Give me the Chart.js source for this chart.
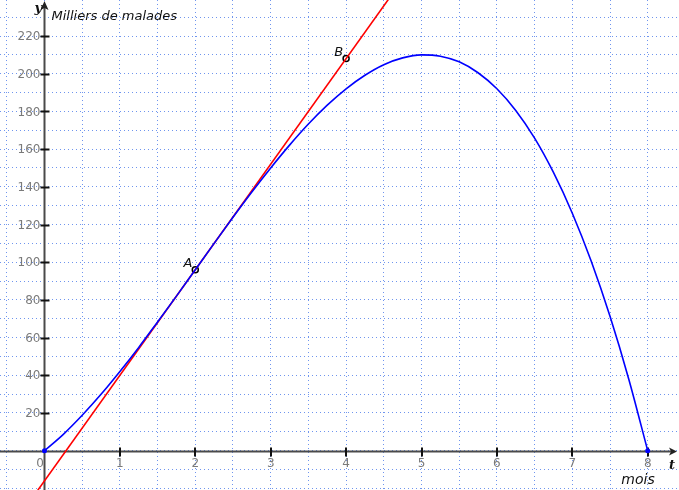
<!DOCTYPE html>
<html>
<head>
<meta charset="utf-8">
<script src="https://cdn.jsdelivr.net/npm/chart.js@4/dist/chart.umd.min.js"></script>
<style>
  html, body { margin: 0; padding: 0; background: #fff; }
  #wrap { width: 679px; height: 490px; }
</style>
</head>
<body>
<div id="wrap"><canvas id="chart"></canvas></div>
<script>
// mois (t) et milliers de malades
const moisT = [0, 0.25, 0.5, 0.75, 1, 1.25, 1.5, 1.75, 2, 2.25, 2.5, 2.75, 3, 3.25, 3.5, 3.75,
  4, 4.25, 4.5, 4.75, 5, 5.25, 5.5, 5.75, 6, 6.25, 6.5, 6.75, 7, 7.25, 7.5, 7.75, 8];
const malades = [0, 8.7, 18.8, 29.9, 42, 54.8, 68.3, 82, 96, 110, 123.8, 137.2, 150, 162.1, 173.3, 183.3,
  192, 199.2, 204.8, 208.4, 210, 209.3, 206.3, 200.5, 192, 180.5, 165.8, 147.6, 126, 100.6, 71.3, 37.8, 0];

// tangente en A (droite AB)
const tangenteT = [-0.5, 4.75];
const tangenteY = [-44, 250];

// points A et B
const pointNames = ['A', 'B'];
const pointT = [2, 4];
const pointY = [96, 208];

// graduations
const xTicks = [0, 1, 2, 3, 4, 5, 6, 7, 8];
const yTicks = [20, 40, 60, 80, 100, 120, 140, 160, 180, 200, 220];

const toXY = (xs, ys) => xs.map((x, i) => ({ x: x, y: ys[i] }));

const axesPlugin = {
  id: 'axes',
  beforeDatasetsDraw(chart) {
    const ctx = chart.ctx;
    const sx = chart.scales.x, sy = chart.scales.y;
    const x0 = Math.round(sx.getPixelForValue(0)) + 0.5;
    const y0 = Math.round(sy.getPixelForValue(0)) + 0.5;
    const area = chart.chartArea;
    ctx.save();
    ctx.strokeStyle = '#4a4a4a';
    ctx.fillStyle = '#222';
    ctx.lineWidth = 2;
    // x axis
    ctx.beginPath();
    ctx.moveTo(area.left, y0);
    ctx.lineTo(area.right - 6, y0);
    ctx.stroke();
    ctx.beginPath();
    ctx.moveTo(area.right - 2, y0);
    ctx.lineTo(area.right - 10, y0 - 4);
    ctx.lineTo(area.right - 8, y0);
    ctx.lineTo(area.right - 10, y0 + 4);
    ctx.closePath();
    ctx.fill();
    // y axis
    ctx.beginPath();
    ctx.moveTo(x0, area.bottom);
    ctx.lineTo(x0, area.top + 6);
    ctx.stroke();
    ctx.beginPath();
    ctx.moveTo(x0, area.top + 1);
    ctx.lineTo(x0 - 4, area.top + 10);
    ctx.lineTo(x0, area.top + 8);
    ctx.lineTo(x0 + 4, area.top + 10);
    ctx.closePath();
    ctx.fill();

    // tick marks
    ctx.strokeStyle = '#111';
    ctx.lineWidth = 2;
    xTicks.forEach(v => {
      if (v === 0) return;
      const px = Math.round(sx.getPixelForValue(v));
      ctx.beginPath();
      ctx.moveTo(px, y0 - 4);
      ctx.lineTo(px, y0 + 5);
      ctx.stroke();
    });
    yTicks.forEach(v => {
      const py = Math.round(sy.getPixelForValue(v)) + 0.5;
      ctx.beginPath();
      ctx.moveTo(x0 - 4, py);
      ctx.lineTo(x0 + 5, py);
      ctx.stroke();
    });

    // tick labels
    ctx.font = '12px "DejaVu Sans", sans-serif';
    ctx.fillStyle = '#7a7a7a';
    ctx.textAlign = 'center';
    ctx.textBaseline = 'top';
    xTicks.forEach(v => {
      let px = sx.getPixelForValue(v);
      if (v === 0) px -= 4.5;
      ctx.fillText(String(v), px, y0 + 6);
    });
    ctx.textAlign = 'right';
    ctx.textBaseline = 'middle';
    yTicks.forEach(v => {
      ctx.fillText(String(v), x0 - 4, sy.getPixelForValue(v) + 1);
    });

    // axis names
    ctx.fillStyle = '#111';
    ctx.font = 'italic bold 13px "DejaVu Serif", serif';
    ctx.textAlign = 'left';
    ctx.textBaseline = 'alphabetic';
    ctx.fillText('y', x0 - 10, area.top + 12);
    ctx.fillText('t', area.right - 10, y0 + 17);

    ctx.font = 'italic 13px "DejaVu Sans", sans-serif';
    ctx.fillText('Milliers de malades', x0 + 7, area.top + 20);
    ctx.font = 'italic 14px "DejaVu Sans", sans-serif';
    ctx.fillText('mois', sx.getPixelForValue(7.65), area.bottom - 6);
    ctx.restore();
  },
  afterDatasetsDraw(chart) {
    const ctx = chart.ctx;
    const sx = chart.scales.x, sy = chart.scales.y;
    ctx.save();
    ctx.font = 'italic 13px "DejaVu Sans", sans-serif';
    ctx.fillStyle = '#111';
    ctx.textAlign = 'right';
    ctx.textBaseline = 'alphabetic';
    pointNames.forEach((n, i) => {
      ctx.fillText(n, sx.getPixelForValue(pointT[i]) - 3, sy.getPixelForValue(pointY[i]) - 3);
    });
    ctx.restore();
  }
};

// grid lines every "step" across the visible range
const gridTicks = step => scale => {
  const ticks = [];
  for (let k = Math.ceil(scale.min / step); k * step <= scale.max; k++) {
    ticks.push({ value: k * step });
  }
  scale.ticks = ticks;
};

new Chart(document.getElementById('chart'), {
  type: 'scatter',
  data: {
    datasets: [
      {
        type: 'line',
        data: toXY(moisT, malades),
        borderColor: '#0000ff',
        borderWidth: 1.6,
        cubicInterpolationMode: 'monotone',
        pointRadius: ctx => (ctx.dataIndex === 0 || ctx.dataIndex === moisT.length - 1) ? 2.5 : 0,
        pointBackgroundColor: '#0000ff',
        pointBorderWidth: 0,
        fill: false
      },
      {
        type: 'line',
        data: toXY(tangenteT, tangenteY),
        borderColor: '#ff0000',
        borderWidth: 1.6,
        pointRadius: 0,
        fill: false
      },
      {
        data: toXY(pointT, pointY),
        pointRadius: 3,
        pointBorderWidth: 1.5,
        pointBorderColor: '#000',
        pointBackgroundColor: '#fff'
      }
    ]
  },
  options: {
    responsive: true,
    maintainAspectRatio: false,
    animation: false,
    layout: { padding: 0, autoPadding: false },
    plugins: { legend: { display: false }, tooltip: { enabled: false } },
    scales: {
      x: {
        type: 'linear',
        min: -0.59,
        max: 8.415,
        afterBuildTicks: gridTicks(0.5),
        ticks: { display: false },
        grid: { color: '#6f95ee', lineWidth: 1, drawTicks: false },
        border: { display: false, dash: [1, 3] }
      },
      y: {
        type: 'linear',
        min: -20.85,
        max: 239.1,
        afterBuildTicks: gridTicks(10),
        ticks: { display: false },
        grid: { color: '#6f95ee', lineWidth: 1, drawTicks: false },
        border: { display: false, dash: [1, 3] }
      }
    }
  },
  plugins: [axesPlugin]
});
</script>
</body>
</html>
